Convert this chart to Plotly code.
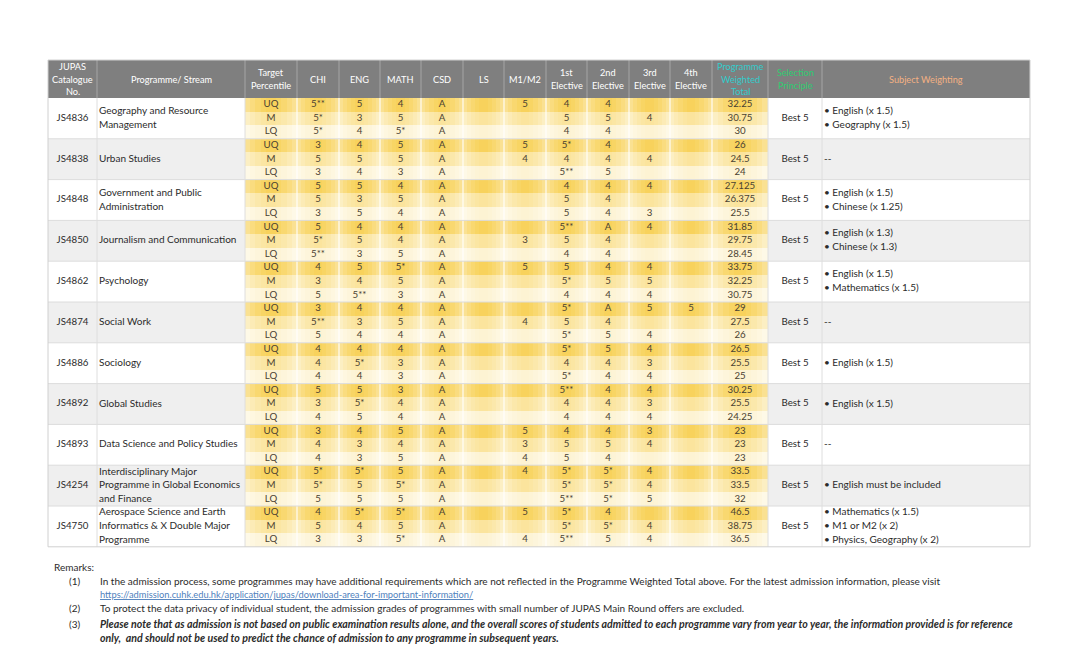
import plotly.graph_objects as go

# ---------------- DATA ----------------
codes = ["JS4836", "JS4838", "JS4848", "JS4850", "JS4862", "JS4874",
         "JS4886", "JS4892", "JS4893", "JS4254", "JS4750"]

programme_lines = [
    ["Geography and Resource", "Management"],
    ["Urban Studies"],
    ["Government and Public", "Administration"],
    ["Journalism and Communication"],
    ["Psychology"],
    ["Social Work"],
    ["Sociology"],
    ["Global Studies"],
    ["Data Science and Policy Studies"],
    ["Interdisciplinary Major", "Programme in Global Economics", "and Finance"],
    ["Aerospace Science and Earth", "Informatics & X Double Major", "Programme"],
]

percentiles = ["UQ", "M", "LQ"]

subject_headers = [["CHI"], ["ENG"], ["MATH"], ["CSD"], ["LS"], ["M1/M2"],
                   ["1st", "Elective"], ["2nd", "Elective"], ["3rd", "Elective"], ["4th", "Elective"]]

# per programme: UQ, M, LQ rows; columns CHI ENG MATH CSD LS M1/M2 1st 2nd 3rd 4th
grades = [
    [["5**", "5", "4", "A", "", "5", "4", "4", "", ""],
     ["5*", "3", "5", "A", "", "", "5", "5", "4", ""],
     ["5*", "4", "5*", "A", "", "", "4", "4", "", ""]],
    [["3", "4", "5", "A", "", "5", "5*", "4", "", ""],
     ["5", "5", "5", "A", "", "4", "4", "4", "4", ""],
     ["3", "4", "3", "A", "", "", "5**", "5", "", ""]],
    [["5", "5", "4", "A", "", "", "4", "4", "4", ""],
     ["5", "3", "5", "A", "", "", "5", "4", "", ""],
     ["3", "5", "4", "A", "", "", "5", "4", "3", ""]],
    [["5", "4", "4", "A", "", "", "5**", "A", "4", ""],
     ["5*", "5", "4", "A", "", "3", "5", "4", "", ""],
     ["5**", "3", "5", "A", "", "", "4", "4", "", ""]],
    [["4", "5", "5*", "A", "", "5", "5", "4", "4", ""],
     ["3", "4", "5", "A", "", "", "5*", "5", "5", ""],
     ["5", "5**", "3", "A", "", "", "4", "4", "4", ""]],
    [["3", "4", "4", "A", "", "", "5*", "A", "5", "5"],
     ["5**", "3", "5", "A", "", "4", "5", "4", "", ""],
     ["5", "4", "4", "A", "", "", "5*", "5", "4", ""]],
    [["4", "4", "4", "A", "", "", "5*", "5", "4", ""],
     ["4", "5*", "3", "A", "", "", "4", "4", "3", ""],
     ["4", "4", "3", "A", "", "", "5*", "4", "4", ""]],
    [["5", "5", "3", "A", "", "", "5**", "4", "4", ""],
     ["3", "5*", "4", "A", "", "", "4", "4", "3", ""],
     ["4", "5", "4", "A", "", "", "4", "4", "4", ""]],
    [["3", "4", "5", "A", "", "5", "4", "4", "3", ""],
     ["4", "3", "4", "A", "", "3", "5", "5", "4", ""],
     ["4", "3", "5", "A", "", "4", "5", "4", "", ""]],
    [["5*", "5*", "5", "A", "", "4", "5*", "5*", "4", ""],
     ["5*", "5", "5*", "A", "", "", "5*", "5*", "4", ""],
     ["5", "5", "5", "A", "", "", "5**", "5*", "5", ""]],
    [["4", "5*", "5*", "A", "", "5", "5*", "4", "", ""],
     ["5", "4", "5", "A", "", "", "5*", "5*", "4", ""],
     ["3", "3", "5*", "A", "", "4", "5**", "5", "4", ""]],
]

weighted_totals = [
    ["32.25", "30.75", "30"],
    ["26", "24.5", "24"],
    ["27.125", "26.375", "25.5"],
    ["31.85", "29.75", "28.45"],
    ["33.75", "32.25", "30.75"],
    ["29", "27.5", "26"],
    ["26.5", "25.5", "25"],
    ["30.25", "25.5", "24.25"],
    ["23", "23", "23"],
    ["33.5", "33.5", "32"],
    ["46.5", "38.75", "36.5"],
]

selection = ["Best 5"] * 11

weighting = [
    ["• English (x 1.5)", "• Geography (x 1.5)"],
    ["--"],
    ["• English (x 1.5)", "• Chinese (x 1.25)"],
    ["• English (x 1.3)", "• Chinese (x 1.3)"],
    ["• English (x 1.5)", "• Mathematics (x 1.5)"],
    ["--"],
    ["• English (x 1.5)"],
    ["• English (x 1.5)"],
    ["--"],
    ["• English must be included"],
    ["• Mathematics (x 1.5)", "• M1 or M2 (x 2)", "• Physics, Geography (x 2)"],
]

remarks = [
    ("(1)", "In the admission process, some programmes may have additional requirements which are not reflected in the Programme Weighted Total above. For the latest admission information, please visit"),
    ("", "https://admission.cuhk.edu.hk/application/jupas/download-area-for-important-information/"),
    ("(2)", "To protect the data privacy of individual student, the admission grades of programmes with small number of JUPAS Main Round offers are excluded."),
    ("(3)", "Please note that as admission is not based on public examination results alone, and the overall scores of students admitted to each programme vary from year to year, the information provided is for reference"),
    ("", "only,  and should not be used to predict the chance of admission to any programme in subsequent years."),
]

# ---------------- LAYOUT CONSTANTS ----------------
FONT = "Lato"
W, Hh = 1080, 670
col_edges = [48, 97, 245, 297, 339, 380, 421, 463, 504, 546, 587, 629, 670, 712, 768, 822, 1030]
HEAD_TOP, HEAD_BOT = 60, 98
GROUP_H = 40.8
ROW_H = GROUP_H / 3
n = len(codes)
TABLE_BOT = HEAD_BOT + n * GROUP_H
YELLOW_COLS = list(range(2, 14))
TXT_Y = "#4a4232"
TXT = "#2b2b2b"
TS = 9.7  # table text size

def cx(i):
    return (col_edges[i] + col_edges[i + 1]) / 2

def row_c(g, r):
    return HEAD_BOT + g * GROUP_H + (r + 0.5) * ROW_H

def group_c(g):
    return HEAD_BOT + (g + 0.5) * GROUP_H

def line_ys(g, k):
    if k == 1:
        return [group_c(g)]
    if k == 2:
        return [group_c(g) - 7, group_c(g) + 7]
    return [row_c(g, r) for r in range(3)]

fig = go.Figure()
shapes = []

for g in range(n):
    fill = "#efefef" if g % 2 == 1 else "#ffffff"
    y0 = HEAD_BOT + g * GROUP_H
    for a, b in [(0, 2), (14, 16)]:
        shapes.append(dict(type="rect", x0=col_edges[a], x1=col_edges[b], y0=y0, y1=y0 + GROUP_H,
                           fillcolor=fill, line_width=0, layer="below"))

# yellow gradient cells as a heatmap
SUB = 10
xe = []
for c in YELLOW_COLS:
    x0, x1 = col_edges[c], col_edges[c + 1]
    for s in range(SUB):
        xe.append(x0 + (x1 - x0) * s / SUB)
xe.append(col_edges[YELLOW_COLS[-1] + 1])
ye = [HEAD_BOT + k * ROW_H for k in range(3 * n + 1)]
base_c = [1.0, 0.6, 0.27]
base_e = [0.6, 0.32, 0.12]
zz = []
for g in range(n):
    for r in range(3):
        row = []
        for c in YELLOW_COLS:
            for s in range(SUB):
                t = (s + 0.5) / SUB
                d = abs(2 * t - 1)
                row.append(base_c[r] - (base_c[r] - base_e[r]) * d ** 1.6)
        zz.append(row)
fig.add_trace(go.Heatmap(x=xe, y=ye, z=zz, zmin=0, zmax=1, showscale=False, hoverinfo="skip",
                         colorscale=[[0, "#ffffff"], [1, "#f8d25a"]]))

for c in YELLOW_COLS[1:]:
    shapes.append(dict(type="line", x0=col_edges[c], x1=col_edges[c], y0=HEAD_BOT, y1=TABLE_BOT,
                       line=dict(color="rgba(255,255,255,0.9)", width=1.2)))

for g in range(1, n):
    y = HEAD_BOT + g * GROUP_H
    shapes.append(dict(type="line", x0=col_edges[0], x1=col_edges[-1], y0=y, y1=y,
                       line=dict(color="#dcdcdc", width=1)))

for c in [1, 2, 14, 15]:
    shapes.append(dict(type="line", x0=col_edges[c], x1=col_edges[c], y0=HEAD_BOT, y1=TABLE_BOT,
                       line=dict(color="#dedede", width=1)))

shapes.append(dict(type="rect", x0=col_edges[0], x1=col_edges[-1], y0=HEAD_TOP, y1=HEAD_BOT,
                   fillcolor="#7f7f7f", line_width=0))
for c in range(1, len(col_edges) - 1):
    shapes.append(dict(type="line", x0=col_edges[c], x1=col_edges[c], y0=HEAD_TOP, y1=HEAD_BOT,
                       line=dict(color="#a6a6a6", width=1)))
shapes.append(dict(type="rect", x0=col_edges[0], x1=col_edges[-1], y0=HEAD_TOP, y1=TABLE_BOT,
                   line=dict(color="#d0d0d0", width=1), fillcolor="rgba(0,0,0,0)"))

annotations = []
header_cols = [(0, ["JUPAS", "Catalogue", "No."], "#ffffff"),
               (1, ["Programme/ Stream"], "#ffffff"),
               (2, ["Target", "Percentile"], "#ffffff")]
for k, lines in enumerate(subject_headers):
    header_cols.append((3 + k, lines, "#ffffff"))
header_cols += [(13, ["Programme", "Weighted", "Total"], "#33cccc"),
                (14, ["Selection", "Principle"], "#2ecc71"),
                (15, ["Subject Weighting"], "#f4b183")]
hc = (HEAD_TOP + HEAD_BOT) / 2
for c, lines, colr in header_cols:
    k = len(lines)
    for j, ln in enumerate(lines):
        y = hc + (j - (k - 1) / 2) * 12.8
        annotations.append(dict(x=cx(c), y=y, text=ln, showarrow=False, xanchor="center", yanchor="middle",
                                font=dict(family=FONT, size=9.2, color=colr)))

def text_trace(xs, ys, texts, pos="middle center", color=TXT, size=TS):
    fig.add_trace(go.Scatter(x=xs, y=ys, text=texts, mode="text", textposition=pos, hoverinfo="skip",
                             textfont=dict(family=FONT, size=size, color=color), showlegend=False))

text_trace([cx(0)] * n, [group_c(g) for g in range(n)], codes)

px, py, pt = [], [], []
for g, lines in enumerate(programme_lines):
    for y, ln in zip(line_ys(g, len(lines)), lines):
        px.append(col_edges[1] + 2); py.append(y); pt.append(ln)
text_trace(px, py, pt, pos="middle right", size=10)

gx, gy, gt = [], [], []
for g in range(n):
    for r in range(3):
        y = row_c(g, r)
        gx.append(cx(2)); gy.append(y); gt.append(percentiles[r])
        for k, v in enumerate(grades[g][r]):
            if v:
                gx.append(cx(3 + k)); gy.append(y); gt.append(v)
        gx.append(cx(13)); gy.append(y); gt.append(weighted_totals[g][r])
text_trace(gx, gy, gt, color=TXT_Y)

text_trace([cx(14)] * n, [group_c(g) for g in range(n)], selection)

wx, wy, wt = [], [], []
for g, lines in enumerate(weighting):
    for y, ln in zip(line_ys(g, len(lines)), lines):
        wx.append(col_edges[15] + 2); wy.append(y); wt.append(ln)
text_trace(wx, wy, wt, pos="middle right", size=10)

annotations.append(dict(x=52, y=567, text="Remarks:", showarrow=False, xanchor="left", yanchor="middle",
                        font=dict(family=FONT, size=10, color=TXT)))
rem_y = [581, 594.5, 608, 623.5, 638]
for (lab, txt), y in zip(remarks, rem_y):
    if lab:
        annotations.append(dict(x=74, y=y, text=lab, showarrow=False, xanchor="center", yanchor="middle",
                                font=dict(family=FONT, size=10, color=TXT)))
    if txt.startswith("http"):
        t, col, sz = "<u>" + txt + "</u>", "#4f81bd", 9.3
    elif lab == "(3)" or txt.startswith("only,"):
        t, col, sz = "<b><i>" + txt + "</i></b>", TXT, 10.6
    else:
        t, col, sz = txt, TXT, 10
    annotations.append(dict(x=98, y=y, text=t, showarrow=False, xanchor="left", yanchor="middle",
                            font=dict(family=FONT, size=sz, color=col)))

fig.update_layout(
    width=W, height=Hh, margin=dict(l=0, r=0, t=0, b=0),
    paper_bgcolor="white", plot_bgcolor="white", showlegend=False,
    xaxis=dict(range=[0, W], visible=False, fixedrange=True),
    yaxis=dict(range=[Hh, 0], visible=False, fixedrange=True),
    shapes=shapes, annotations=annotations,
)
fig.write_html("out.html", config={"displayModeBar": False},
               post_script="document.body.style.margin='0';document.body.style.overflow='hidden';")
